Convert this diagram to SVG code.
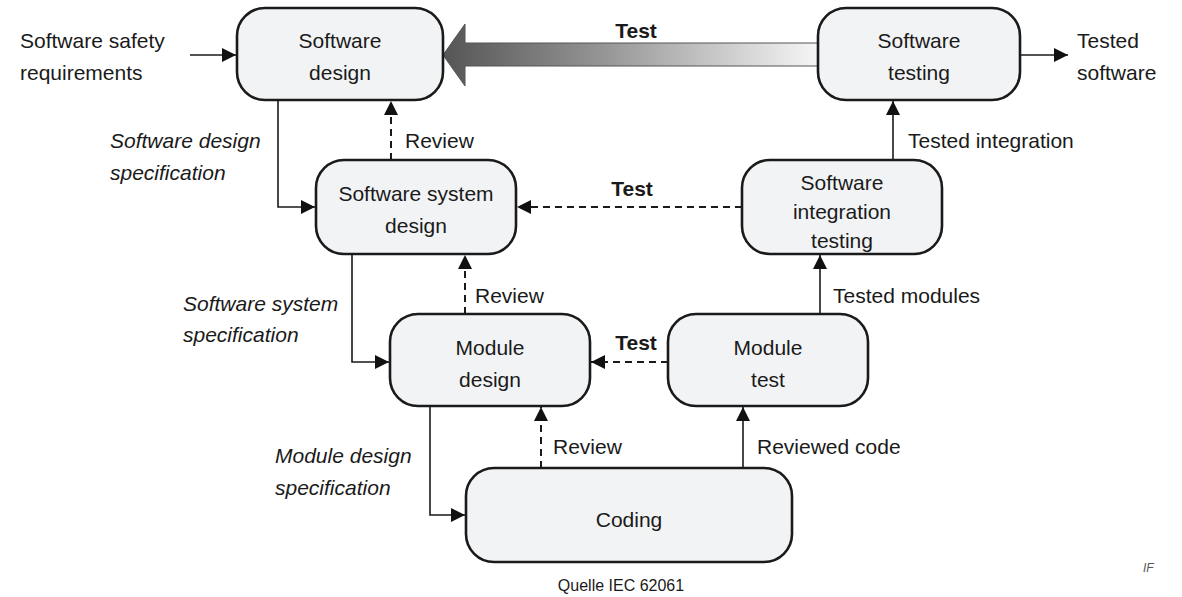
<svg xmlns="http://www.w3.org/2000/svg" width="1182" height="597" viewBox="0 0 1182 597">
  <style>
    .box { fill: #f2f3f5; stroke: #1a1a1a; stroke-width: 2.6; }
    .t { font-family: "Liberation Sans", Arial, sans-serif; font-size: 21px; fill: #1a1a1a; }
    .c { text-anchor: middle; }
    .i { font-style: italic; }
    .b { font-weight: bold; }
    .ln { fill: none; stroke: #1a1a1a; stroke-width: 1.6; }
    .dash { stroke-dasharray: 7 5; stroke-width: 2; }
  </style>
  <defs>
    <marker id="ah" viewBox="0 0 10 10" refX="10" refY="5" markerWidth="14" markerHeight="14" markerUnits="userSpaceOnUse" orient="auto">
      <path d="M0,0 L10,5 L0,10 Z" fill="#111"/>
    </marker>
    <linearGradient id="bigArrow" x1="0" y1="0" x2="1" y2="0">
      <stop offset="0" stop-color="#555"/>
      <stop offset="0.45" stop-color="#999"/>
      <stop offset="1" stop-color="#f6f6f6"/>
    </linearGradient>
  </defs>
  <rect width="1182" height="597" fill="#fff"/>

  <g id="connectors">
    <!-- wide shaded test feedback arrow -->
    <path d="M443,55 L465,24 L465,43 L818,43 L818,66 L465,66 L465,86 Z" fill="url(#bigArrow)" stroke="#555" stroke-width="1"/>
    <line class="ln" x1="190" y1="55" x2="236" y2="55" marker-end="url(#ah)"/>
    <line class="ln" x1="1020" y1="55" x2="1068" y2="55" marker-end="url(#ah)"/>
    <polyline class="ln" points="278,100 278,207 315,207" marker-end="url(#ah)"/>
    <line class="ln dash" x1="391" y1="160" x2="391" y2="101" marker-end="url(#ah)"/>
    <line class="ln dash" x1="742" y1="207" x2="517" y2="207" marker-end="url(#ah)"/>
    <line class="ln" x1="893" y1="160" x2="893" y2="101" marker-end="url(#ah)"/>
    <polyline class="ln" points="352,254 352,362 389,362" marker-end="url(#ah)"/>
    <line class="ln dash" x1="465" y1="314" x2="465" y2="255" marker-end="url(#ah)"/>
    <line class="ln dash" x1="668" y1="362" x2="591" y2="362" marker-end="url(#ah)"/>
    <line class="ln" x1="820" y1="314" x2="820" y2="255" marker-end="url(#ah)"/>
    <polyline class="ln" points="430,406 430,515 465,515" marker-end="url(#ah)"/>
    <line class="ln dash" x1="541" y1="468" x2="541" y2="407" marker-end="url(#ah)"/>
    <line class="ln" x1="743" y1="468" x2="743" y2="407" marker-end="url(#ah)"/>
  </g>

  <g id="software-design">
    <rect class="box" x="237" y="8" width="206" height="92" rx="28"/>
    <text class="t c" x="340" y="48">Software</text>
    <text class="t c" x="340" y="80">design</text>
  </g>
  <g id="software-testing">
    <rect class="box" x="818" y="8" width="202" height="92" rx="28"/>
    <text class="t c" x="919" y="48">Software</text>
    <text class="t c" x="919" y="80">testing</text>
  </g>
  <g id="software-system-design">
    <rect class="box" x="316" y="160" width="200" height="94" rx="28"/>
    <text class="t c" x="416" y="201">Software system</text>
    <text class="t c" x="416" y="233">design</text>
  </g>
  <g id="software-integration-testing">
    <rect class="box" x="742" y="160" width="200" height="94" rx="28"/>
    <text class="t c" x="842" y="190">Software</text>
    <text class="t c" x="842" y="219">integration</text>
    <text class="t c" x="842" y="248">testing</text>
  </g>
  <g id="module-design">
    <rect class="box" x="390" y="314" width="200" height="92" rx="28"/>
    <text class="t c" x="490" y="355">Module</text>
    <text class="t c" x="490" y="387">design</text>
  </g>
  <g id="module-test">
    <rect class="box" x="668" y="314" width="200" height="92" rx="28"/>
    <text class="t c" x="768" y="355">Module</text>
    <text class="t c" x="768" y="387">test</text>
  </g>
  <g id="coding">
    <rect class="box" x="466" y="468" width="326" height="94" rx="28"/>
    <text class="t c" x="629" y="527">Coding</text>
  </g>

  <g id="labels">
    <text class="t" x="20" y="48">Software safety</text>
    <text class="t" x="20" y="80">requirements</text>
    <text class="t" x="1077" y="48">Tested</text>
    <text class="t" x="1077" y="80">software</text>
    <text class="t b c" x="636" y="38">Test</text>
    <text class="t i" x="110" y="148">Software design</text>
    <text class="t i" x="110" y="180">specification</text>
    <text class="t" x="405" y="148">Review</text>
    <text class="t b c" x="632" y="196">Test</text>
    <text class="t" x="908" y="148">Tested integration</text>
    <text class="t i" x="183" y="311">Software system</text>
    <text class="t i" x="183" y="342">specification</text>
    <text class="t" x="475" y="303">Review</text>
    <text class="t b c" x="636" y="350">Test</text>
    <text class="t" x="833" y="303">Tested modules</text>
    <text class="t i" x="275" y="463">Module design</text>
    <text class="t i" x="275" y="495">specification</text>
    <text class="t" x="553" y="454">Review</text>
    <text class="t" x="757" y="454">Reviewed code</text>
    <text class="t c" x="621" y="591" style="font-size:16px">Quelle IEC 62061</text>
    <text class="t i" x="1143" y="572" style="font-size:12px;fill:#555">IF</text>
  </g>
</svg>
